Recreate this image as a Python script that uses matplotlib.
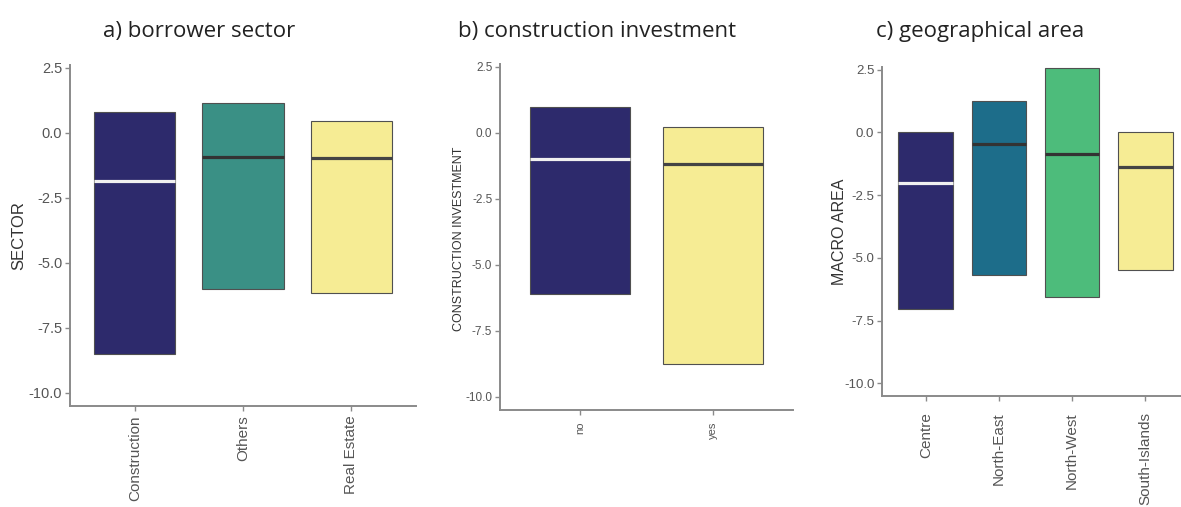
import matplotlib
matplotlib.use("Agg")
import matplotlib.pyplot as plt

# Panel a) borrower sector
sector_cats = ["Construction", "Others", "Real Estate"]
sector_high = [0.80, 1.15, 0.46]
sector_low = [-8.50, -6.00, -6.15]
sector_median = [-1.85, -0.92, -0.96]

# Panel b) construction investment
invest_cats = ["no", "yes"]
invest_high = [0.98, 0.23]
invest_low = [-6.10, -8.75]
invest_median = [-0.98, -1.17]

# Panel c) geographical area
area_cats = ["Centre", "North-East", "North-West", "South-Islands"]
area_high = [0.00, 1.24, 2.55, 0.00]
area_low = [-7.05, -5.70, -6.57, -5.50]
area_median = [-2.03, -0.48, -0.88, -1.40]

yticks = [2.5, 0.0, -2.5, -5.0, -7.5, -10.0]

W, H = 1181, 507
fig = plt.figure(figsize=(W / 100, H / 100), dpi=100)
fig.patch.set_facecolor("white")

NAVY = "#2D2A6C"
TEAL = "#3A9085"
BLUE = "#1D6D8A"
GREEN = "#4DBC7B"
YELLOW = "#F6EC94"
AXIS_GREY = "#8a8a8a"
TEXT_GREY = "#555555"


def px_axes(left, right, top, bottom):
    return fig.add_axes([left / W, 1 - bottom / H, (right - left) / W, (bottom - top) / H])


def panel(ax, cats, highs, lows, medians, colors, med_colors,
          ytick_size, xtick_size, xpad):
    xs = list(range(1, len(cats) + 1))
    heights = [h - l for h, l in zip(highs, lows)]
    ax.bar(xs, heights, bottom=lows, width=0.75, color=colors,
           edgecolor="#505050", linewidth=0.8, zorder=2)
    for x, m, mc in zip(xs, medians, med_colors):
        ax.hlines(m, x - 0.375, x + 0.375, colors=mc, linewidth=2.3, zorder=3)
    ax.set_xlim(0.4, len(cats) + 0.6)
    ax.set_ylim(-10.5, 2.6)
    ax.set_xticks(xs)
    ax.set_xticklabels(cats, rotation=90, fontsize=xtick_size, color=TEXT_GREY,
                       family="Liberation Sans")
    ax.set_yticks(yticks)
    ax.set_yticklabels([f"{v:.1f}" for v in yticks], fontsize=ytick_size,
                       color=TEXT_GREY, family="Liberation Sans")
    for s in ("top", "right"):
        ax.spines[s].set_visible(False)
    for s in ("left", "bottom"):
        ax.spines[s].set_color(AXIS_GREY)
        ax.spines[s].set_linewidth(1.4)
    ax.tick_params(axis="both", colors=AXIS_GREY, length=3.5, width=1.0, pad=2)
    ax.tick_params(axis="x", pad=xpad)
    ax.tick_params(axis="x", labelcolor=TEXT_GREY)
    ax.tick_params(axis="y", labelcolor=TEXT_GREY)
    ax.set_facecolor("white")


ax1 = px_axes(70, 416, 65, 406)
panel(ax1, sector_cats, sector_high, sector_low, sector_median,
      [NAVY, TEAL, YELLOW], ["#f0f0f0", "#333333", "#444444"], 10.5, 11, 3)

ax2 = px_axes(500, 793, 64, 410)
panel(ax2, invest_cats, invest_high, invest_low, invest_median,
      [NAVY, YELLOW], ["#f0f0f0", "#444444"], 8.5, 8, 5)

ax3 = px_axes(882, 1189, 67, 396)
panel(ax3, area_cats, area_high, area_low, area_median,
      [NAVY, BLUE, GREEN, YELLOW], ["#f0f0f0", "#333333", "#333333", "#444444"],
      9.5, 11, 8)

# Axis titles
ylab_kw = dict(color="#333333", family="Liberation Sans", rotation=90,
               ha="center", va="center")
fig.text(19 / W, 1 - 236 / H, "SECTOR", fontsize=12, **ylab_kw)
fig.text(459 / W, 1 - 239 / H, "CONSTRUCTION INVESTMENT", fontsize=9, **ylab_kw)
fig.text(839 / W, 1 - 232 / H, "MACRO AREA", fontsize=11.5, **ylab_kw)

# Panel headings
title_kw = dict(fontsize=16, color="#222222", family="Open Sans",
                ha="center", va="center")
fig.text(199 / W, 1 - 31 / H, "a) borrower sector", **title_kw)
fig.text(597 / W, 1 - 31 / H, "b) construction investment", **title_kw)
fig.text(980 / W, 1 - 31 / H, "c) geographical area", **title_kw)

fig.savefig("out.png", dpi=100, facecolor="white")
